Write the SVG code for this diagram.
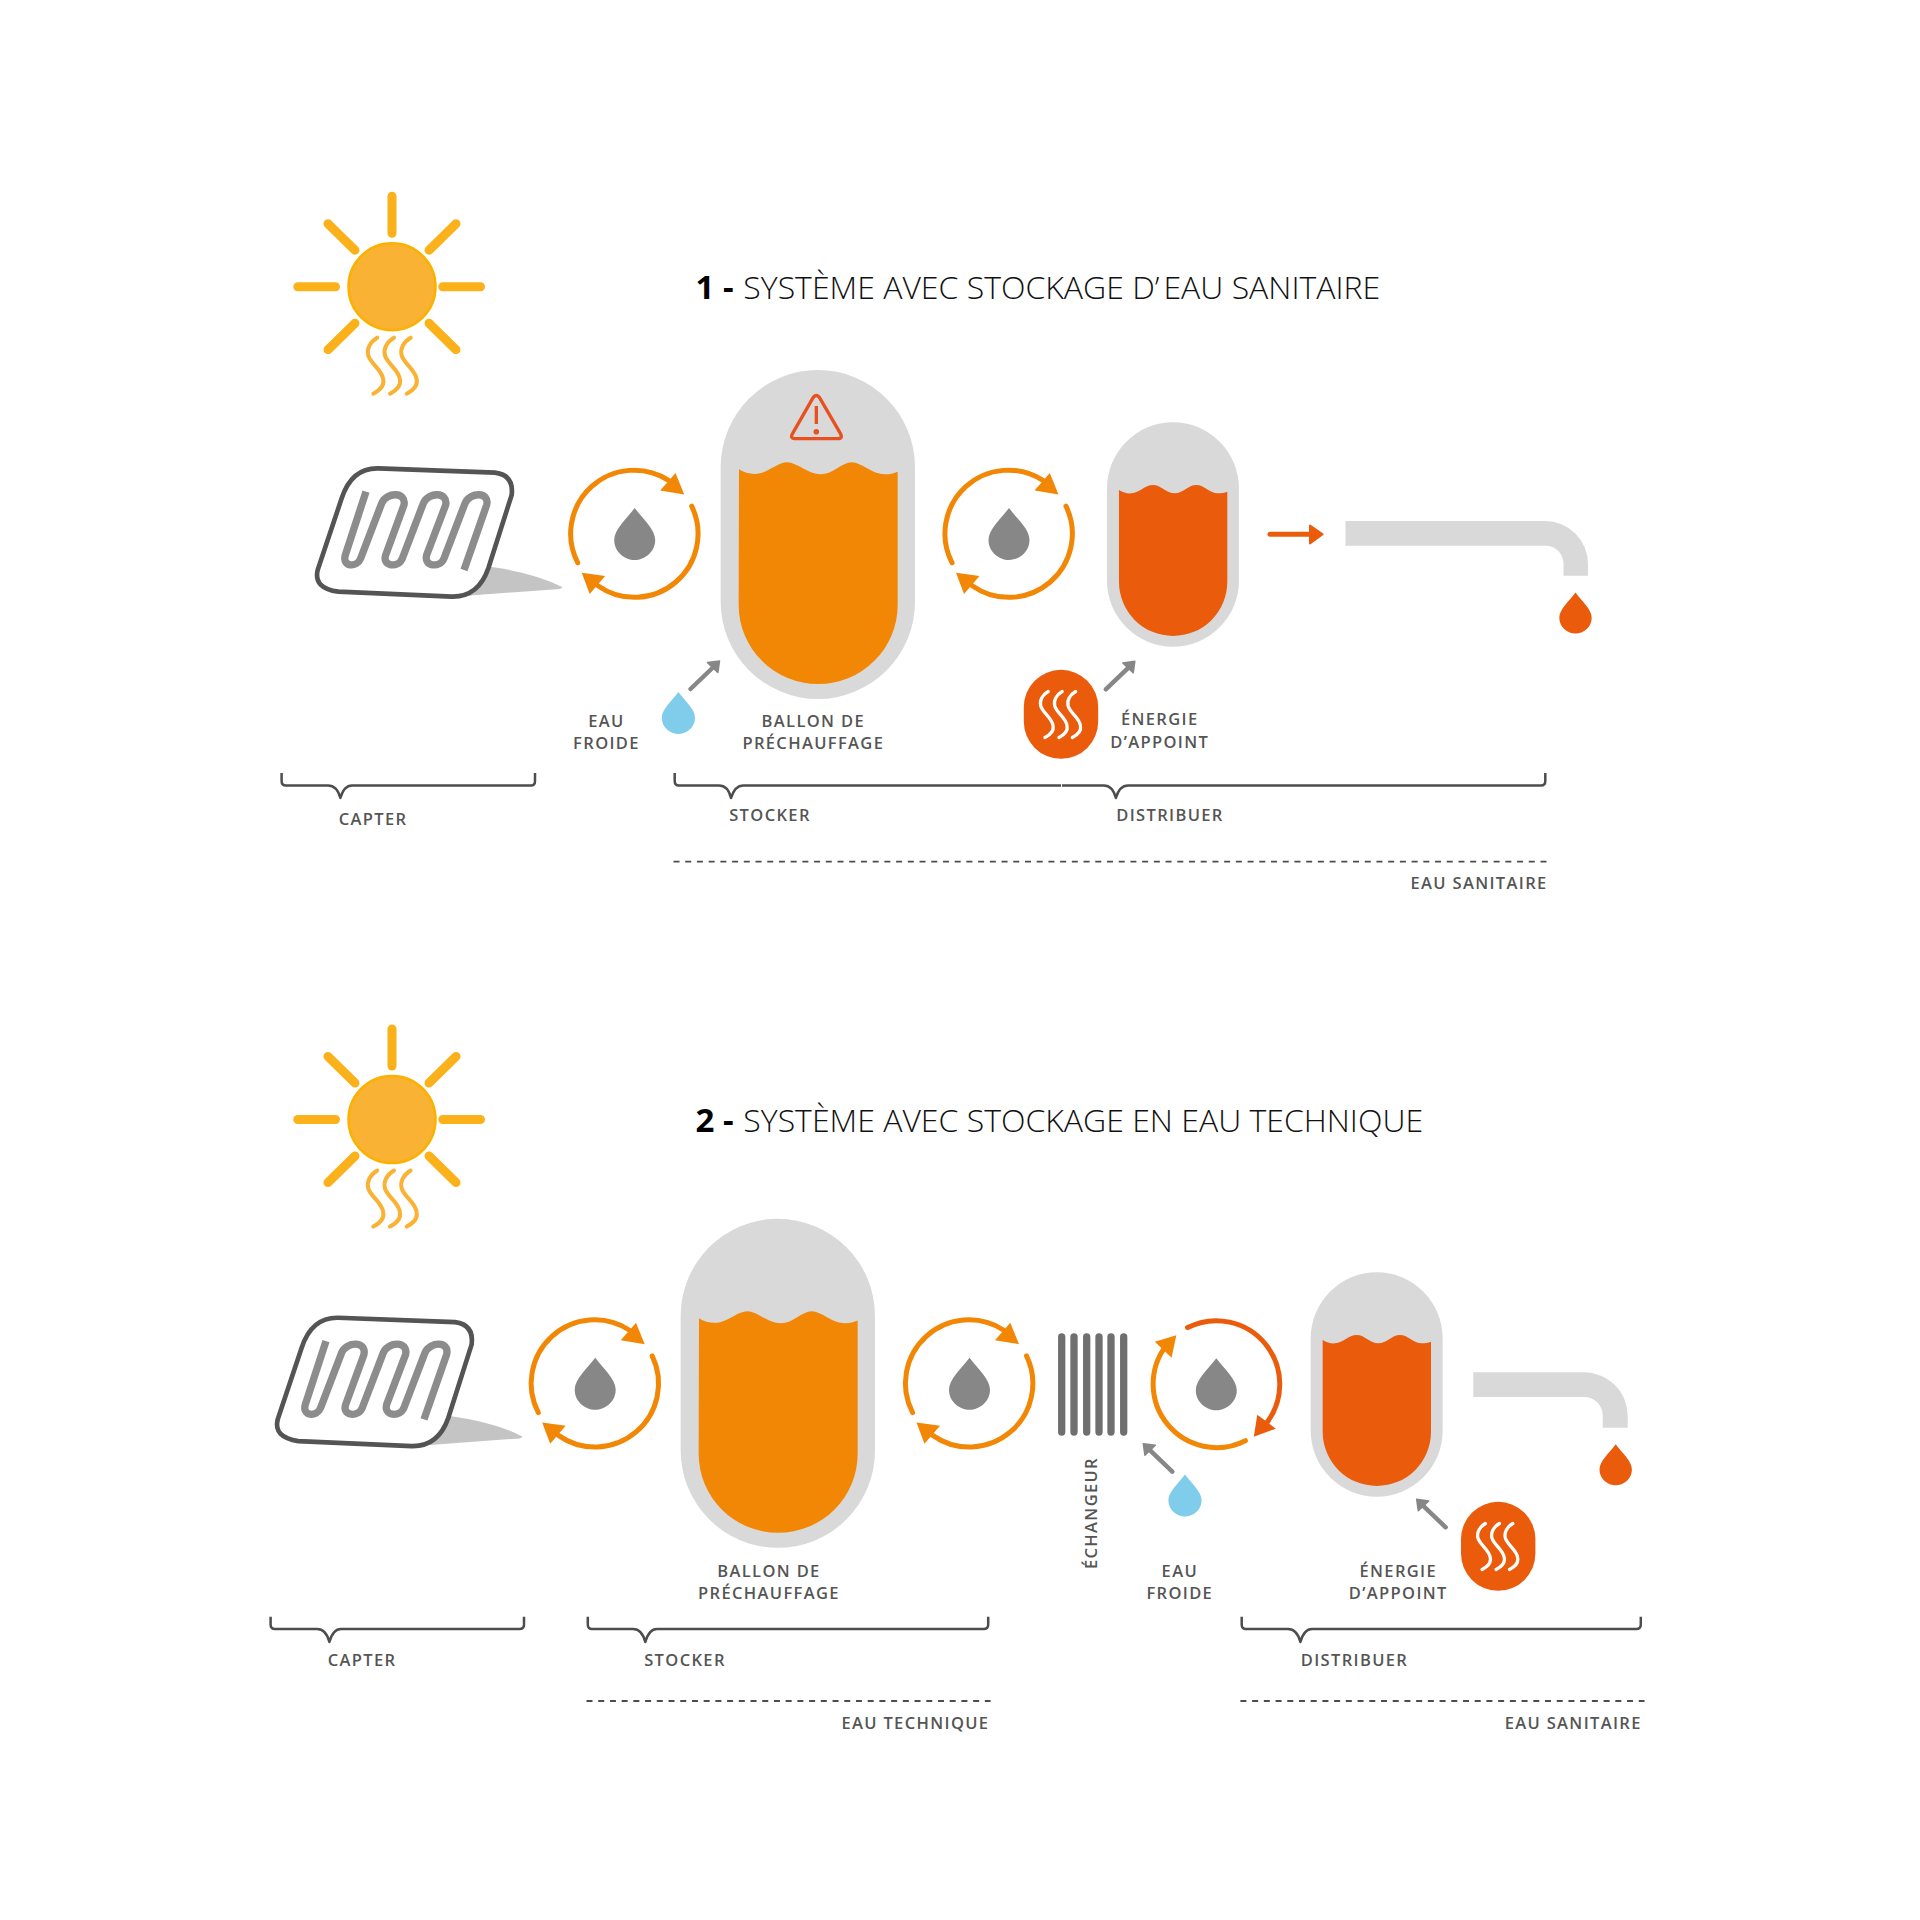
<svg xmlns="http://www.w3.org/2000/svg" width="1920" height="1920" viewBox="0 0 1920 1920">
<style>
.l{font-family:"Open Sans","Noto Sans",sans-serif;font-weight:600;font-size:16.500px;letter-spacing:1.350px;fill:#555}
.m{text-anchor:middle}.e{text-anchor:end}
.t{font-family:"Open Sans","Noto Sans",sans-serif;font-weight:300;font-size:32px;fill:#111}
.tb{font-weight:700;fill:#000;font-size:33px}
.br{fill:none;stroke:#4d4d4d;stroke-width:2.500;stroke-linejoin:round}
.da{fill:none;stroke:#4d4d4d;stroke-width:1.800;stroke-dasharray:6 5.716}
.ar{fill:none;stroke-width:5;stroke-linecap:round}
</style>
<defs>
<g id="sun">
<g fill="none" stroke="#fbb21a" stroke-width="9" stroke-linecap="round">
<path d="M0 -90.500V-53.500"/>
<path d="M-94.200 0H-56.500M50.800 0H88.500"/>
<path d="M37 -36.500L64 -63M-37 -36.500L-64 -63M37 36.500L64 63M-37 36.500L-64 63"/>
</g>
<circle r="43.500" fill="#f9b233" stroke="#fbb100" stroke-width="2.500"/>
<g fill="none" stroke="#f9b233" stroke-width="4" stroke-linecap="round">
<use href="#wave" x="-14.700" y="51"/><use href="#wave" x="2" y="51"/><use href="#wave" x="18.700" y="51"/>
</g>
</g>
<path id="wave" d="M0 0C-7 4 -11 11 -9 18C-6 27 5 32 6 42C7 48 2 53 -4 56"/>
<path id="drop" d="M0 -26C8 -15 20.500 -5 20.500 6C20.500 18 10 26 0 26C-10 26 -20.500 18 -20.500 6C-20.500 -5 -8 -15 0 -26Z"/>
<g id="collector">
<path d="M660 1190Q800 1210 878 1252L870 1257L580 1278Z" fill="#c4c4c4"/>
<path d="M325 895L675 908Q732 915 725 975L655 1195Q625 1282 545 1280L205 1265Q130 1255 143 1200L215 985Q245 893 325 895Z" fill="#fff" stroke="#545454" stroke-width="14" stroke-linejoin="round"/>
<path d="M288 965L226 1155C215 1190 260 1195 272 1165L335 1000C350 965 410 965 402 1005L347 1155C335 1190 385 1195 397 1165L460 1000C475 965 535 965 527 1005L470 1155C460 1190 510 1195 522 1165L585 1000C600 965 660 965 650 1005L582 1200" fill="none" stroke="#8c8c8c" stroke-width="22"/>
</g>
<g id="cycle">
<path class="ar" stroke="#f28705" d="M-56.900 28.900A63.500 63.500 0 0 1 33.900 -53.700"/>
<path fill="#f28705" d="M40.800 -61L49.500 -39.500L25.500 -43.500Z"/>
<path class="ar" stroke="#f28705" d="M57 -27.800A63.500 63.500 0 0 1 -36.800 51.700"/>
<path fill="#f28705" d="M-53 38.800L-29.500 42L-45 60Z"/>
<use href="#drop" fill="#878787"/>
</g>
<g id="cycle2">
<path class="ar" stroke="#f28705" d="M29.100 56.500A63.500 63.500 0 0 1 -49.700 -39.200"/>
<path fill="#f28705" d="M-40 -49L-61.500 -42.500L-44.700 -26.500Z"/>
<path class="ar" stroke="#ea5b0c" d="M-28.700 -56.600A63.500 63.500 0 0 1 49.500 39.800"/>
<path fill="#ea5b0c" d="M59.500 44.500L37.500 52.500L41 30.500Z"/>
<use href="#drop" fill="#878787"/>
</g>
<g id="tankbig">
<rect x="62" y="30" width="583" height="987" rx="291.500" fill="#d9d9d9"/>
<path d="M117 328C135 340 160 345 180 340C210 333 235 307 262 307C290 307 325 343 362 343C400 343 425 307 455 307C485 307 515 343 555 343C570 343 582 340 593 335V735A238.500 237 0 0 1 116 735Z" fill="#f28705"/>
</g>
<g id="tanksmall">
<rect x="32" y="67" width="396" height="673" rx="198" fill="#d9d9d9"/>
<path d="M68 270C80 277 92 281 105 280C130 278 145 255 170 255C195 255 210 280 235 280C260 280 275 255 300 255C325 255 340 280 365 280C375 280 385 278 393 275V545.500A162.500 162.500 0 0 1 68 545.500Z" fill="#ea5b0c"/>
</g>
<g id="heater">
<rect x="-37.200" y="-44.500" width="74.400" height="89" rx="37.200" fill="#ea5b0c"/>
<g fill="none" stroke="#fff" stroke-width="4" stroke-linecap="round">
<use href="#wave" transform="translate(-12.800 -22.800) scale(.82)"/>
<use href="#wave" transform="translate(1.200 -22.800) scale(.82)"/>
<use href="#wave" transform="translate(14.600 -22.800) scale(.82)"/>
</g>
</g>
<g id="garrow">
<path d="M0 0L24 -23" fill="none" stroke="#878787" stroke-width="4.500" stroke-linecap="round"/>
<path d="M29 -28L17 -26.400L27.400 -16.500Z" fill="#878787" stroke="#878787" stroke-width="1.500" stroke-linejoin="round"/>
</g>
</defs>

<g id="title-1"><text class="t" x="695.500" y="299.300"><tspan class="tb">1 -</tspan> <tspan x="743.300">SYSTÈME AVEC STOCKAGE D’</tspan><tspan dx="4">EAU SANITAIRE</tspan></text></g>
<g id="sun-1"><use href="#sun" x="392" y="286.700"/></g>
<g id="collector-1"><use href="#collector" transform="translate(270,170) scale(.33333)"/></g>
<g id="cycle-1a"><use href="#cycle" x="634.700" y="534"/></g>
<g id="tank-1a"><use href="#tankbig" transform="translate(700,360) scale(.33333)"/>
<path d="M338 115Q349 98 360 115L421 220Q430 236 412 236H288Q268 236 278 220Z" transform="translate(700,360) scale(.33333)" fill="none" stroke="#e9501f" stroke-width="10"/>
<path d="M349 138V192" transform="translate(700,360) scale(.33333)" fill="none" stroke="#e9501f" stroke-width="10"/>
<circle cx="816.300" cy="431.700" r="2.800" fill="#e9501f"/>
<text class="l m" x="813.300" y="726.700">BALLON DE</text><text class="l m" x="813.300" y="749">PRÉCHAUFFAGE</text></g>
<g id="cycle-1b"><use href="#cycle" x="1009" y="534"/></g>
<g id="tank-1b"><use href="#tanksmall" transform="translate(1096.300,400) scale(.33333)"/></g>
<g id="tap-1">
<path d="M1345.500 521H1545A43 43 0 0 1 1588 564V575.700H1563.500V564A18 18 0 0 0 1545.500 545.700H1345.500Z" fill="#d9d9d9"/>
<use href="#drop" fill="#ea5b0c" transform="translate(1575.500,613) scale(.79)"/></g>
<g id="cold-1"><use href="#drop" fill="#7fcdea" transform="translate(678.400,713) scale(.81)"/>
<text class="l m" x="606.500" y="726.700">EAU</text><text class="l m" x="606.500" y="749">FROIDE</text></g>
<g id="heater-1"><use href="#heater" x="1061" y="714.300"/>
<text class="l m" x="1159.700" y="725">ÉNERGIE</text><text class="l m" x="1159.700" y="747.700">D’APPOINT</text></g>
<g id="connectors-1">
<path d="M1270 534.300H1312" class="ar" stroke="#ea5b0c"/>
<path d="M1310 525.500L1322.600 534.300L1310 543.500Z" fill="#ea5b0c" stroke="#ea5b0c" stroke-width="2" stroke-linejoin="round"/>
<use href="#garrow" x="690.500" y="689"/>
<use href="#garrow" x="1105.800" y="689.300"/>
</g>
<g id="scale-1">
<path class="br" d="M281.600 773V781Q281.600 785.500 286 785.500H328Q337 785.500 340.400 798Q344 785.500 352 785.500H531Q535 785.500 535 781V773"/>
<text class="l m" x="373" y="825.300">CAPTER</text>
<path class="br" d="M674.700 773V781Q674.700 785.500 679 785.500H719Q728 785.500 731 798Q735 785.500 743 785.500H1061"/>
<text class="l m" x="770" y="820.500">STOCKER</text>
<path class="br" d="M1062 785.500H1104Q1112.500 785.500 1115.900 798Q1119.500 785.500 1128 785.500H1541Q1545.300 785.500 1545.300 781V773"/>
<text class="l m" x="1170" y="820.500">DISTRIBUER</text>
<path class="da" d="M673.500 861.700H1546.500"/>
<text class="l e" x="1547.600" y="889">EAU SANITAIRE</text>
</g>

<g id="title-2"><text class="t" x="695.500" y="1132"><tspan class="tb">2 -</tspan> <tspan x="743.300">SYSTÈME AVEC STOCKAGE EN EAU TECHNIQUE</tspan></text></g>
<g id="sun-2"><use href="#sun" x="392" y="1119.500"/></g>
<g id="collector-2"><use href="#collector" transform="translate(230,1019.400) scale(.33333)"/></g>
<g id="cycle-2a"><use href="#cycle" x="595.200" y="1383.700"/></g>
<g id="tank-2a"><use href="#tankbig" transform="translate(660,1208.800) scale(.33333)"/>
<text class="l m" x="769" y="1576.700">BALLON DE</text><text class="l m" x="769" y="1599.300">PRÉCHAUFFAGE</text></g>
<g id="cycle-2b"><use href="#cycle" x="969.500" y="1383.700"/></g>
<g id="exchanger-2">
<path d="M1061.700 1337V1432M1074 1337V1432M1086.700 1337V1432M1099 1337V1432M1111 1337V1432M1123.700 1337V1432" fill="none" stroke="#6f6f6f" stroke-width="7.300" stroke-linecap="round"/>
<text class="l m" transform="translate(1096.700,1513) rotate(-90)">ÉCHANGEUR</text></g>
<g id="cycle-2c"><use href="#cycle2" x="1216.300" y="1384.200"/></g>
<g id="cold-2"><use href="#drop" fill="#7fcdea" transform="translate(1185,1495.500) scale(.81)"/>
<text class="l m" x="1179.800" y="1576.700">EAU</text><text class="l m" x="1179.800" y="1599.300">FROIDE</text></g>
<g id="tank-2b"><use href="#tanksmall" transform="translate(1300,1250) scale(.33333)"/></g>
<g id="tap-2">
<path d="M1473.300 1372.300H1584A43.700 43.700 0 0 1 1627.700 1416V1427.700H1602.700V1416A18.500 18.500 0 0 0 1584.200 1397H1473.300Z" fill="#d9d9d9"/>
<use href="#drop" fill="#ea5b0c" transform="translate(1615.700,1464.700) scale(.79)"/></g>
<g id="heater-2"><use href="#heater" x="1498.200" y="1546.300"/>
<text class="l m" x="1398.300" y="1576.700">ÉNERGIE</text><text class="l m" x="1398.300" y="1599.300">D’APPOINT</text></g>
<g id="connectors-2">
<use href="#garrow" transform="translate(1172.300,1471.700) scale(-1,1)"/>
<use href="#garrow" transform="translate(1445.700,1527.300) scale(-1,1)"/>
</g>
<g id="scale-2">
<path class="br" d="M270.600 1616.700V1624.500Q270.600 1629 275 1629H317Q326 1629 329.400 1642Q333 1629 341 1629H519.500Q524 1629 524 1624.500V1616.700"/>
<text class="l m" x="362" y="1665.700">CAPTER</text>
<path class="br" d="M587.800 1616.700V1624.500Q587.800 1629 592 1629H633Q642 1629 645.300 1642Q649 1629 657 1629H983.700Q988.200 1629 988.200 1624.500V1616.700"/>
<text class="l m" x="685" y="1665.700">STOCKER</text>
<text class="l m" x="1354.500" y="1665.700">DISTRIBUER</text>
<path class="br" d="M1241.700 1616.700V1624.500Q1241.700 1629 1246 1629H1288Q1297 1629 1300.400 1642Q1304 1629 1312 1629H1636.300Q1640.800 1629 1640.800 1624.500V1616.700"/>
<path class="da" d="M586.500 1701H990.600M1240.400 1701H1644.500"/>
<text class="l e" x="989.400" y="1729">EAU TECHNIQUE</text>
<text class="l e" x="1641.800" y="1729">EAU SANITAIRE</text>
</g>
</svg>
